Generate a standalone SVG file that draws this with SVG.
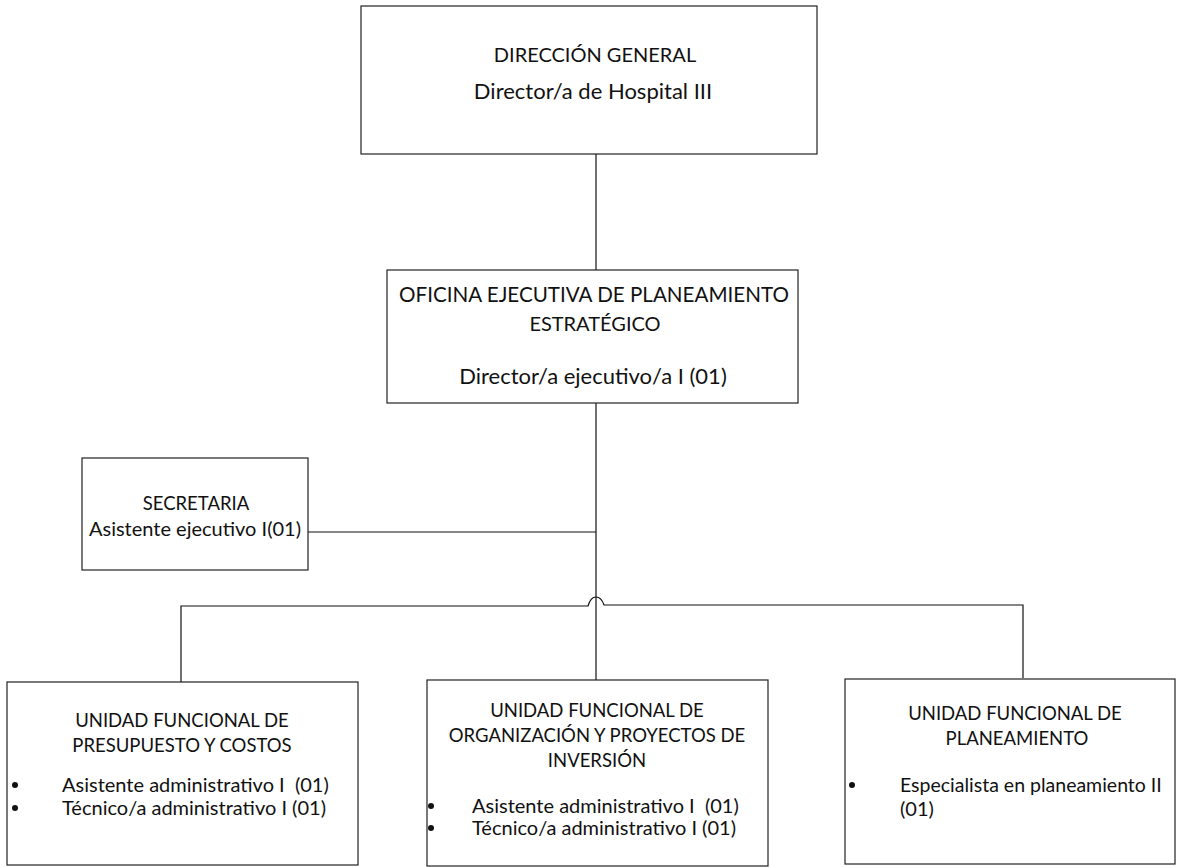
<svg xmlns="http://www.w3.org/2000/svg" width="1202" height="867" viewBox="0 0 1202 867">
<style>
.box{fill:#fff;stroke:#222;stroke-width:1.2}
.ln{fill:none;stroke:#111;stroke-width:1.2}
text{font-family:Lato,"Liberation Sans",Arial,sans-serif;fill:#111;white-space:pre}
.t20{font-size:20px}
.t22{font-size:22px}
.tt{font-size:18.5px}
.tb{font-size:20px}
.c{text-anchor:middle}
.dot{fill:#111}
</style>
<rect width="1202" height="867" fill="#fff"/>
<g id="connectors">
<line class="ln" x1="596" y1="154" x2="596" y2="270"/>
<line class="ln" x1="596" y1="403" x2="596" y2="680"/>
<line class="ln" x1="308" y1="532" x2="596" y2="532"/>
<path class="ln" d="M181,682 V606 H588 C590,599 593,597 596,597 C599,597 602,599 604,605 H1023 V678"/>
</g>
<g id="n-direccion">
<rect class="box" x="361" y="6" width="456" height="148"/>
<text class="t20 c" x="595" y="62">DIRECCIÓN GENERAL</text>
<text class="t22 c" x="593" y="99">Director/a de Hospital III</text>
</g>
<g id="n-oficina">
<rect class="box" x="387" y="270" width="411" height="133"/>
<text class="c" style="font-size:20.6px" x="594" y="302">OFICINA EJECUTIVA DE PLANEAMIENTO</text>
<text class="t20 c" x="595" y="331">ESTRATÉGICO</text>
<text class="t22 c" x="593" y="384">Director/a ejecutivo/a I (01)</text>
</g>
<g id="n-secretaria">
<rect class="box" x="82" y="458" width="226" height="112"/>
<text class="tt c" x="196" y="510">SECRETARIA</text>
<text class="tb c" x="195" y="536">Asistente ejecutivo I(01)</text>
</g>
<g id="n-presupuesto">
<rect class="box" x="7" y="682" width="351" height="183"/>
<text class="tt c" x="182" y="727">UNIDAD FUNCIONAL DE</text>
<text class="tt c" x="182" y="752">PRESUPUESTO Y COSTOS</text>
<circle class="dot" cx="15" cy="785" r="3"/>
<text class="tb" x="62" y="792">Asistente administrativo I  (01)</text>
<circle class="dot" cx="15" cy="808" r="3"/>
<text class="tb" x="62" y="815">Técnico/a administrativo I (01)</text>
</g>
<g id="n-organizacion">
<rect class="box" x="427" y="680" width="341" height="186"/>
<text class="tt c" x="597" y="717">UNIDAD FUNCIONAL DE</text>
<text class="tt c" x="597" y="742">ORGANIZACIÓN Y PROYECTOS DE</text>
<text class="tt c" x="597" y="767">INVERSIÓN</text>
<circle class="dot" cx="431" cy="806" r="3"/>
<text class="tb" x="472" y="813">Asistente administrativo I  (01)</text>
<circle class="dot" cx="431" cy="828" r="3"/>
<text class="tb" x="472" y="835">Técnico/a administrativo I (01)</text>
</g>
<g id="n-planeamiento">
<rect class="box" x="845" y="679" width="330" height="185"/>
<text class="tt c" x="1015" y="720">UNIDAD FUNCIONAL DE</text>
<text class="tt c" x="1017" y="745">PLANEAMIENTO</text>
<circle class="dot" cx="852" cy="785" r="3"/>
<text class="tb" style="font-size:19.5px" x="900" y="792">Especialista en planeamiento II</text>
<text class="tb" x="900" y="816">(01)</text>
</g>
</svg>
